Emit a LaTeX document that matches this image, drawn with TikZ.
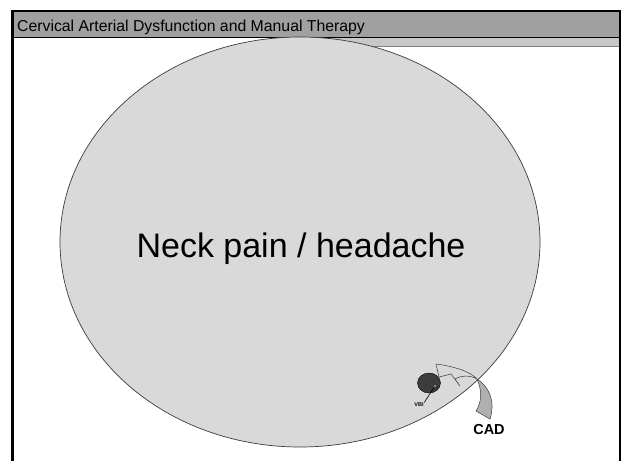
\documentclass[tikz,border=0pt]{standalone}
\usepackage{fontspec}
\setmainfont{Liberation Sans}
\usetikzlibrary{shapes.geometric}
\definecolor{cadBar}{HTML}{A0A0A0}
\definecolor{cadBand}{HTML}{C8C8C8}
\definecolor{cadPale}{HTML}{D9D9D9}
\definecolor{cadDark}{HTML}{3C3C3C}
\definecolor{cadWedge}{HTML}{B0B0B0}
\definecolor{cadGray}{HTML}{808080}
\tikzset{
  cad frame/.style={draw=black, line width=2.8pt},
  cad pool/.style={ellipse, draw=cadDark, fill=cadPale, line width=0.7pt, minimum width=480pt, minimum height=410pt, inner sep=0pt},
  cad vessel/.style={ellipse, draw=black, fill=cadDark, line width=0.4pt, minimum width=23pt, minimum height=20pt, inner sep=0pt},
  cad dot/.style={circle, draw=black, fill=cadGray, line width=0.3pt, minimum size=4pt, inner sep=0pt},
  cad ribbon/.style={draw=cadDark, line width=0.5pt},
  cad title/.style={font=\fontsize{15.8}{18}\selectfont, text=black, inner sep=0pt},
  cad big label/.style={font=\fontsize{34}{40}\selectfont, text=black, inner sep=0pt},
  cad label/.style={font=\fontsize{14.5}{17}\selectfont\bfseries, text=black, inner sep=0pt},
  cad tiny label/.style={font=\fontsize{5.5}{6}\selectfont\bfseries, text=black, inner sep=0.5pt},
}

\begin{document}
\begin{tikzpicture}[x=1pt,y=-1pt]
  \useasboundingbox (0,0) rectangle (622,461);
  % title bar
  \fill[cadBand] (300,37) rectangle (619,46);
  \draw[cadGray, line width=0.6pt] (300,46) -- (619,46);
  \fill[cadBar] (13,12) rectangle (619,37);
  \draw[line width=0.6pt] (13,37) -- (619,37);
  \node[cad title, anchor=base west] (title) at (17,31) {Cervical Arterial Dysfunction and Manual Therapy};
  % big ellipse
  \node[cad pool] (pool) at (300,242) {};
  \node[cad big label, anchor=base] (pain) at (301,257) {Neck pain / headache};
  % VBI
  \node[cad vessel] (vessel) at (429,383) {};
  \node[cad dot] (vbi dot) at (435,386) {};
  \node[cad tiny label] (vbi) at (419,405) {VBI};
  \draw[line width=0.6pt] (vbi dot) -- (vbi.north east);
  % curved arrow from CAD
  \coordinate (cross) at (477,379);
  \filldraw[cad ribbon, fill=cadWedge] (cross) .. controls (488,386) and (496,400) .. (490,419)
    -- (476,411) .. controls (482,402) and (482,390) .. (cross);
  \filldraw[cad ribbon, fill=cadPale] (cross) .. controls (470,371) and (452,366) .. (436,364)
    -- (439,377) -- (451,374) -- (460,386) -- (455,379)
    .. controls (462,375) and (470,375) .. (cross);
  \node[cad label, anchor=base] (cad) at (489,434) {CAD};
  % frame
  \draw[cad frame] (12.5,470) -- (12.5,11) -- (620,11) -- (620,470);
\end{tikzpicture}
\end{document}
